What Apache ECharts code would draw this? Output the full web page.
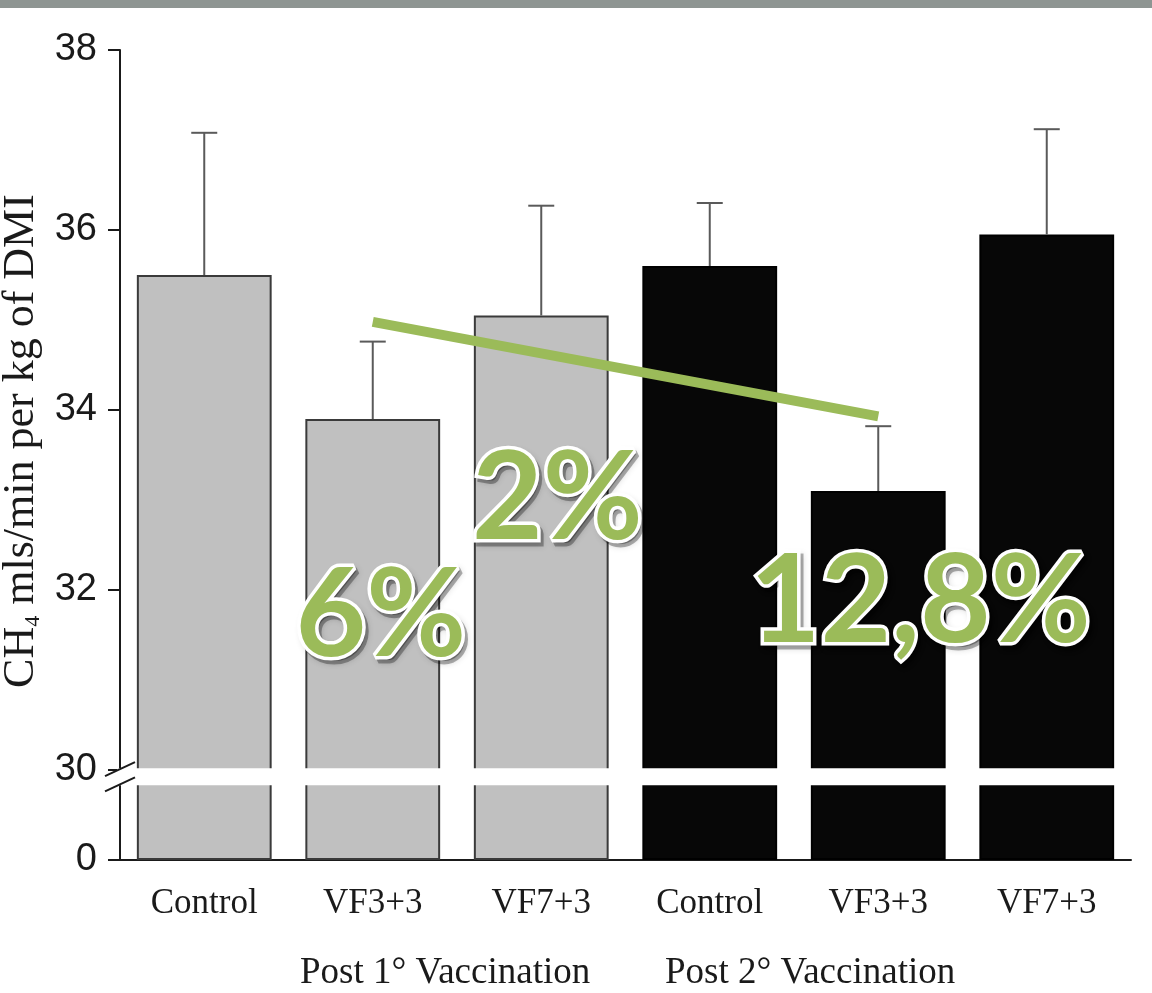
<!DOCTYPE html>
<html>
<head>
<meta charset="utf-8">
<script src="https://cdn.jsdelivr.net/npm/echarts@6/dist/echarts.min.js"></script>
<style>
  html, body { margin: 0; padding: 0; background: #fff; }
  #main { width: 1152px; height: 993px; }
</style>
</head>
<body>
<div id="main"></div>
<script>
// categories and values
const categories = ['Control', 'VF3+3', 'VF7+3', 'Control', 'VF3+3', 'VF7+3'];
const means = [35.5, 33.9, 35.05, 35.6, 33.1, 35.95];
const upperErr = [37.08, 34.76, 36.27, 36.3, 33.82, 37.12];
const groupLabels = ['Post 1° Vaccination', 'Post 2° Vaccination'];

// broken axis: the real 0 is drawn one unit below 30
const axisZero = 29;
const yTicks = [29, 30, 32, 34, 36, 38];
const breakBand = [29.83, 30.02];

// green annotations
const trendLine = [[1, 34.98], [4, 33.93]];
const noteTexts = ['6%', '2%', '12,8%'];
const noteX = [1, 2, 4];
const noteY = [31.7, 33.0, 31.86];

const myChart = echarts.init(document.getElementById('main'));

const green = '#9bbb59';
const serif = '"Liberation Serif", "Times New Roman", serif';
const noteOffsets = [[8, 0], [16, 0], [42, 0]];

function noteSeries(name, z, dx, dy, labelStyle) {
  return {
    name: name,
    type: 'scatter',
    z: z,
    symbolSize: 0,
    silent: true,
    itemStyle: { opacity: 1 },
    data: noteTexts.map(function (t, i) {
      return {
        value: [noteX[i], noteY[i]],
        name: t,
        label: { offset: [noteOffsets[i][0] + dx, noteOffsets[i][1] + dy] }
      };
    }),
    label: Object.assign({
      show: true,
      position: 'inside',
      opacity: 1,
      formatter: function (p) { return p.name; },
      fontFamily: 'Lato, "Open Sans", sans-serif',
      fontWeight: 'bold',
      fontSize: 122
    }, labelStyle)
  };
}

myChart.setOption({
  animation: false,
  grid: { left: 120, right: 21, top: 50, bottom: 133, outerBoundsMode: 'none', containLabel: false },
  graphic: [
    {
      type: 'rect', left: 0, top: 0, z: 100,
      shape: { width: 1152, height: 8 },
      style: { fill: '#8e9592' }
    },
    {
      type: 'text', left: 300, top: 955,
      style: { text: groupLabels[0], font: '37px ' + serif, fill: '#1a1a1a' }
    },
    {
      type: 'text', left: 665, top: 955,
      style: { text: groupLabels[1], font: '37px ' + serif, fill: '#1a1a1a' }
    }
  ],
  xAxis: {
    type: 'category',
    data: categories,
    axisLine: { lineStyle: { color: '#1a1a1a', width: 2 } },
    axisTick: { length: 12, lineStyle: { color: '#1a1a1a', width: 2 } },
    axisLabel: {
      margin: 26,
      color: '#1a1a1a',
      fontFamily: serif,
      fontSize: 35
    }
  },
  yAxis: {
    type: 'value',
    min: axisZero,
    max: 38,
    startValue: axisZero,
    splitLine: { show: false },
    axisLine: { show: true, lineStyle: { color: '#1a1a1a', width: 2 } },
    axisTick: {
      show: true, length: 12, customValues: yTicks,
      lineStyle: { color: '#1a1a1a', width: 2 }
    },
    axisLabel: {
      customValues: yTicks,
      margin: 23,
      color: '#1a1a1a',
      fontFamily: '"Liberation Sans Narrow", "Liberation Sans", Arial, sans-serif',
      fontSize: 38,
      formatter: function (v) {
        return v === axisZero ? '0' : String(v);
      }
    },
    name: 'CH{sub|4} mls/min per kg of DMI',
    nameLocation: 'middle',
    nameRotate: 90,
    nameGap: 61,
    nameTextStyle: {
      color: '#1a1a1a',
      fontFamily: serif,
      fontSize: 44,
      padding: [0, 0, 0, 28],
      rich: {
        sub: { fontFamily: serif, fontSize: 22, verticalAlign: 'bottom', padding: [16, 0, 0, 0], color: '#1a1a1a' }
      }
    }
  },
  series: [
    {
      name: 'CH4',
      type: 'bar',
      barWidth: '80%',
      z: 2,
      data: means.map(function (m, i) {
        const grey = i < 3;
        return {
          value: m,
          itemStyle: {
            color: grey ? '#c0c0c0' : '#070707',
            borderColor: grey ? '#3a3a3a' : '#000',
            borderWidth: 2
          }
        };
      })
    },
    {
      name: 'error',
      type: 'custom',
      z: 3,
      data: means.map(function (m, i) { return [i, m, upperErr[i]]; }),
      renderItem: function (params, api) {
        const base = api.coord([api.value(0), api.value(1)]);
        const top = api.coord([api.value(0), api.value(2)]);
        const half = 13;
        const style = { stroke: '#5a5a5a', lineWidth: 2 };
        return {
          type: 'group',
          children: [
            { type: 'line', shape: { x1: base[0], y1: base[1], x2: top[0], y2: top[1] }, style: style },
            { type: 'line', shape: { x1: top[0] - half, y1: top[1], x2: top[0] + half, y2: top[1] }, style: style }
          ]
        };
      }
    },
    {
      name: 'break',
      type: 'custom',
      z: 5,
      silent: true,
      data: [breakBand],
      renderItem: function (params, api) {
        const cs = params.coordSys;
        const yLow = api.coord([0, api.value(0)])[1];
        const yHigh = api.coord([0, api.value(1)])[1];
        const x0 = cs.x;
        const s = { stroke: '#1a1a1a', lineWidth: 2 };
        return {
          type: 'group',
          children: [
            {
              type: 'rect',
              shape: { x: x0 - 3, y: yHigh, width: cs.width + 3, height: yLow - yHigh },
              style: { fill: '#fff' }
            },
            { type: 'line', shape: { x1: x0 - 15, y1: yHigh + 8, x2: x0 + 15, y2: yHigh - 6 }, style: s },
            { type: 'line', shape: { x1: x0 - 15, y1: yLow + 6, x2: x0 + 15, y2: yLow - 8 }, style: s }
          ]
        };
      }
    },
    {
      name: 'trend',
      type: 'line',
      z: 8,
      symbol: 'none',
      silent: true,
      lineStyle: { color: green, width: 10 },
      data: trendLine
    },
    noteSeries('notesShadow', 9, 3, 4, {
      color: 'rgba(0,0,0,0.3)',
      textBorderColor: 'rgba(0,0,0,0.3)',
      textBorderWidth: 7,
      textShadowColor: 'rgba(0,0,0,0.4)',
      textShadowBlur: 6
    }),
    noteSeries('notes', 10, 0, 0, {
      color: green,
      textBorderColor: '#fff',
      textBorderWidth: 7
    })
  ]
});
</script>
</body>
</html>
